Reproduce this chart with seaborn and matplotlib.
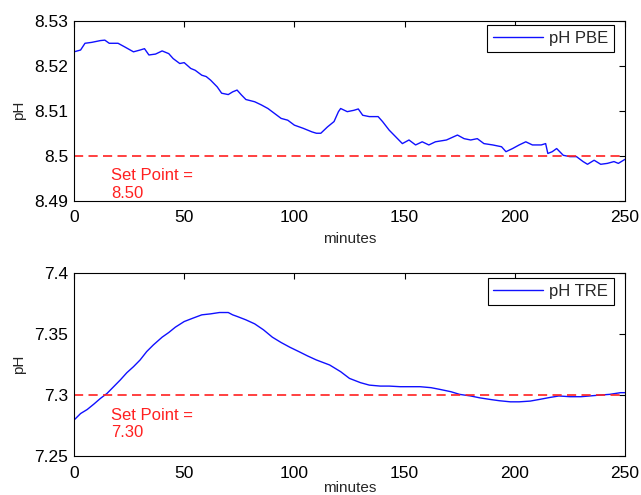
import pandas as pd
import seaborn as sns
import matplotlib.pyplot as plt

# pH readings, minutes vs pH
t_pbe = [0, 3, 5, 8, 12, 14, 16, 20, 23, 27, 30, 32, 34, 37, 40, 43, 45, 48, 50, 53,
         55, 58, 60, 62, 65, 67, 70, 72, 74, 76, 78, 82, 85, 88, 91, 94, 97, 100, 104, 108,
         110, 112, 115, 118, 120, 121, 124, 127, 129, 131, 134, 138, 140, 143, 146, 149,
         152, 155, 158, 161, 164, 169, 174, 177, 180, 183, 186, 190, 194, 196, 199, 202,
         205, 208, 212, 214, 215, 217, 219, 222, 225, 228, 231, 233, 236, 239, 242, 245,
         247, 250]
ph_pbe = [8.5231, 8.5235, 8.5250, 8.5252, 8.5256, 8.5257, 8.5250, 8.5250, 8.5242, 8.5231,
          8.5235, 8.5238, 8.5224, 8.5226, 8.5233, 8.5227, 8.5216, 8.5205, 8.5207, 8.5194,
          8.5190, 8.5179, 8.5176, 8.5168, 8.5153, 8.5139, 8.5136, 8.5142, 8.5146, 8.5135,
          8.5125, 8.5120, 8.5113, 8.5105, 8.5094, 8.5083, 8.5079, 8.5068, 8.5061, 8.5053,
          8.5050, 8.5050, 8.5064, 8.5076, 8.5098, 8.5105, 8.5098, 8.5101, 8.5104, 8.5090,
          8.5087, 8.5087, 8.5076, 8.5057, 8.5042, 8.5027, 8.5035, 8.5024, 8.5031, 8.5024,
          8.5031, 8.5035, 8.5046, 8.5038, 8.5035, 8.5038, 8.5027, 8.5024, 8.5020, 8.5009,
          8.5016, 8.5024, 8.5031, 8.5024, 8.5024, 8.5027, 8.5005, 8.5009, 8.5016, 8.5001,
          8.4998, 8.4998, 8.4987, 8.4981, 8.4990, 8.4981, 8.4983, 8.4987, 8.4983, 8.4992]

t_tre = [0, 3, 6, 9, 12, 15, 18, 21, 24, 27, 30, 33, 36, 40, 43, 46, 50, 54, 58, 62,
         66, 70, 72, 74, 78, 82, 86, 90, 94, 98, 102, 106, 110, 116, 121, 125, 130, 134,
         139, 143, 148, 152, 157, 162, 166, 171, 175, 180, 184, 189, 193, 198, 202, 207,
         211, 216, 220, 225, 230, 234, 239, 243, 248, 250]
ph_tre = [7.2794, 7.2848, 7.2881, 7.2925, 7.2972, 7.3013, 7.3068, 7.3123, 7.3183, 7.3232,
          7.3287, 7.3356, 7.3410, 7.3474, 7.3512, 7.3556, 7.3602, 7.3630, 7.3657, 7.3665,
          7.3676, 7.3676, 7.3657, 7.3644, 7.3616, 7.3583, 7.3534, 7.3474, 7.3430, 7.3391,
          7.3356, 7.3320, 7.3287, 7.3246, 7.3191, 7.3136, 7.3101, 7.3081, 7.3073, 7.3073,
          7.3068, 7.3068, 7.3068, 7.3060, 7.3046, 7.3027, 7.3005, 7.2992, 7.2977, 7.2963,
          7.2953, 7.2944, 7.2944, 7.2950, 7.2963, 7.2980, 7.2992, 7.2986, 7.2986, 7.2992,
          7.3000, 7.3005, 7.3019, 7.3019]

set_points = [8.50, 7.30]
labels = ["pH PBE", "pH TRE"]
ylims = [(8.49, 8.53), (7.25, 7.40)]
yticks = [[8.49, 8.50, 8.51, 8.52, 8.53], [7.25, 7.30, 7.35, 7.40]]
yticklabels = [["8.49", "8.5", "8.51", "8.52", "8.53"], ["7.25", "7.3", "7.35", "7.4"]]

sns.set_theme(style="white")
plt.rcParams["font.family"] = ["Liberation Sans", "DejaVu Sans"]

fig = plt.figure(figsize=(6.41, 4.95), dpi=100)
ax1 = fig.add_axes([0.1154, 0.5945, 0.8596, 0.3635])
ax2 = fig.add_axes([0.1154, 0.0788, 0.8596, 0.3697])
legend_top = [0.976, 0.973]
xlabel_pad = [5, 0]

series = [pd.DataFrame({"minutes": t_pbe, "pH": ph_pbe}),
          pd.DataFrame({"minutes": t_tre, "pH": ph_tre})]

for i, ax in enumerate([ax1, ax2]):
    df = series[i]
    sns.lineplot(data=df, x="minutes", y="pH", ax=ax, color="#1010ff", linewidth=1.0,
                 label=labels[i])
    ax.axhline(set_points[i], color="#ff2020", linestyle=(0, (5.5, 3.2)), linewidth=1.2)
    lo, hi = ylims[i]
    ax.text(17, set_points[i] - (hi - lo) * 0.07, "Set Point =\n%.2f" % set_points[i],
            color="#ff2020", fontsize=12, va="top", ha="left", linespacing=1.2)
    ax.set_xlim(0, 250)
    ax.set_ylim(lo, hi)
    ax.set_xticks([0, 50, 100, 150, 200, 250])
    ax.set_yticks(yticks[i])
    ax.set_yticklabels(yticklabels[i])
    ax.tick_params(direction="in", length=4, width=0.8, top=True, right=True,
                   labelsize=12.5, colors="black", pad=4)
    ax.tick_params(axis="x", pad=7)
    for s in ax.spines.values():
        s.set_color("black")
        s.set_linewidth(0.8)
    ax.set_xlabel("minutes", fontsize=11, labelpad=xlabel_pad[i])
    ax.set_ylabel("pH", fontsize=11, labelpad=6)
    leg = ax.legend(loc="upper right", bbox_to_anchor=(0.980, legend_top[i]),
                    borderaxespad=0, fontsize=12, frameon=True, fancybox=False,
                    edgecolor="black", framealpha=1, handlelength=3.0, borderpad=0.35,
                    handletextpad=0.35)
    leg.get_frame().set_linewidth(0.8)

plt.savefig("out.png", dpi=100)
